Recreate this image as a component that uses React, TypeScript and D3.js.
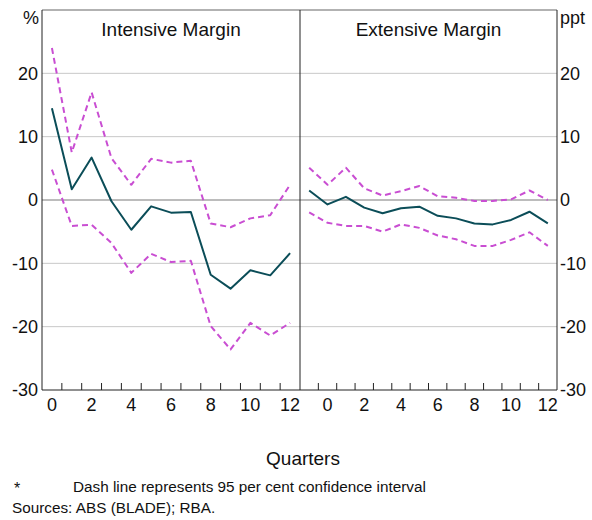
import React from 'react';
import * as d3 from 'd3';

// Quarters after the event, one list per panel
const leftQuarters = [0, 1, 2, 3, 4, 5, 6, 7, 8, 9, 10, 11, 12];
const rightQuarters = [-1, 0, 1, 2, 3, 4, 5, 6, 7, 8, 9, 10, 11, 12];

// Intensive margin (%)
const intensive = [14.5, 1.7, 6.7, -0.2, -4.7, -1.0, -2.0, -1.9, -11.8, -14.0, -11.1, -11.9, -8.4];
const intensiveUpper = [24.0, 7.5, 17.0, 6.6, 2.4, 6.5, 5.9, 6.2, -3.7, -4.3, -2.9, -2.4, 2.4];
const intensiveLower = [4.8, -4.1, -3.9, -6.8, -11.5, -8.5, -9.8, -9.6, -19.9, -23.6, -19.4, -21.4, -19.4];

// Extensive margin (ppt)
const extensive = [1.5, -0.7, 0.5, -1.2, -2.1, -1.3, -1.05, -2.5, -2.9, -3.7, -3.85, -3.15, -1.85, -3.7];
const extensiveUpper = [5.1, 2.4, 5.1, 1.85, 0.7, 1.4, 2.2, 0.6, 0.35, -0.15, -0.15, 0.1, 1.5, 0.0];
const extensiveLower = [-1.95, -3.6, -4.1, -4.1, -5.0, -3.85, -4.4, -5.6, -6.2, -7.25, -7.25, -6.3, -5.1, -7.25];

const xTickLabels = [0, 2, 4, 6, 8, 10, 12];
const yTicks = [-30, -20, -10, 0, 10, 20];

const FONT = "'Liberation Sans', Arial, sans-serif";
const SOLID = '#0b4d58';
const DASH = '#c94ed2';

const W = 592;
const H = 520;
const left = 42;
const mid = 300;
const right = 557;
const top = 10;
const bottom = 390;

const y = d3.scaleLinear().domain([-30, 30]).range([bottom, top]);
const xL = d3.scaleBand<number>().domain(leftQuarters).range([left, mid]);
const xR = d3.scaleBand<number>().domain(rightQuarters).range([mid, right]);

const Panel = ({ x, cats, series }: { x: d3.ScaleBand<number>; cats: number[]; series: { vals: number[]; dashed: boolean }[] }) => {
  const cx = (c: number) => (x(c) as number) + x.bandwidth() / 2;
  return (
    <g>
      {series.map((s, i) => {
        const line = d3.line<number>().x((_, j) => cx(cats[j])).y(v => y(v));
        return (
          <path key={i} d={line(s.vals) || ''} fill="none"
            stroke={s.dashed ? DASH : SOLID} strokeWidth={2}
            strokeDasharray={s.dashed ? '6 4' : undefined} strokeLinejoin="round" />
        );
      })}
      {cats.slice(1).map(c => (
        <line key={c} x1={x(c)} x2={x(c)} y1={bottom} y2={bottom - 7} stroke="#222" strokeWidth={1} />
      ))}
      {xTickLabels.map(c => (
        <text key={c} x={cx(c)} y={411} textAnchor="middle" fontSize={18} fill="#111">{c}</text>
      ))}
    </g>
  );
};

const App = () => {
  return (
    <svg width={W} height={H} style={{ position: 'absolute', left: 0, top: 0, background: '#fff', fontFamily: FONT }}>
      {/* gridlines */}
      {yTicks.filter(t => t !== -30 && t !== 0).map(t => (
        <line key={t} x1={left} x2={right} y1={y(t)} y2={y(t)} stroke="#c8c8c8" strokeWidth={1} />
      ))}
      <line x1={left} x2={right} y1={y(0)} y2={y(0)} stroke="#7a7a7a" strokeWidth={1.2} />

      <Panel x={xL} cats={leftQuarters} series={[
        { vals: intensiveUpper, dashed: true },
        { vals: intensiveLower, dashed: true },
        { vals: intensive, dashed: false },
      ]} />
      <Panel x={xR} cats={rightQuarters} series={[
        { vals: extensiveUpper, dashed: true },
        { vals: extensiveLower, dashed: true },
        { vals: extensive, dashed: false },
      ]} />

      {/* frame */}
      <line x1={left} x2={right} y1={top} y2={top} stroke="#666" strokeWidth={1.2} />
      <line x1={left} x2={right} y1={bottom} y2={bottom} stroke="#222" strokeWidth={1} />
      <line x1={left} x2={left} y1={top} y2={bottom} stroke="#222" strokeWidth={1} />
      <line x1={mid} x2={mid} y1={top} y2={bottom} stroke="#222" strokeWidth={1} />
      <line x1={right} x2={right} y1={top} y2={bottom} stroke="#222" strokeWidth={1} />

      {/* y tick labels */}
      {yTicks.map(t => (
        <g key={t}>
          <text x={38} y={y(t)} dy="0.35em" textAnchor="end" fontSize={18} fill="#111">{t}</text>
          <text x={560} y={y(t)} dy="0.35em" textAnchor="start" fontSize={18} fill="#111">{t}</text>
        </g>
      ))}
      <text x={31} y={24} textAnchor="middle" fontSize={18} fill="#111">%</text>
      <text x={560} y={24} textAnchor="start" fontSize={18} fill="#111">ppt</text>

      {/* panel titles */}
      <text x={(left + mid) / 2} y={36} textAnchor="middle" fontSize={19} fill="#111">Intensive Margin</text>
      <text x={(mid + right) / 2} y={36} textAnchor="middle" fontSize={19} fill="#111">Extensive Margin</text>

      {/* axis title and notes */}
      <text x={303} y={465} textAnchor="middle" fontSize={19} fill="#111">Quarters</text>
      <text x={14} y={494} fontSize={16} fill="#111">*</text>
      <text x={73} y={492} fontSize={15.3} fill="#111">Dash line represents 95 per cent confidence interval</text>
      <text x={12} y={513} fontSize={15.3} fill="#111">Sources: ABS (BLADE); RBA.</text>
    </svg>
  );
};

export default App;
